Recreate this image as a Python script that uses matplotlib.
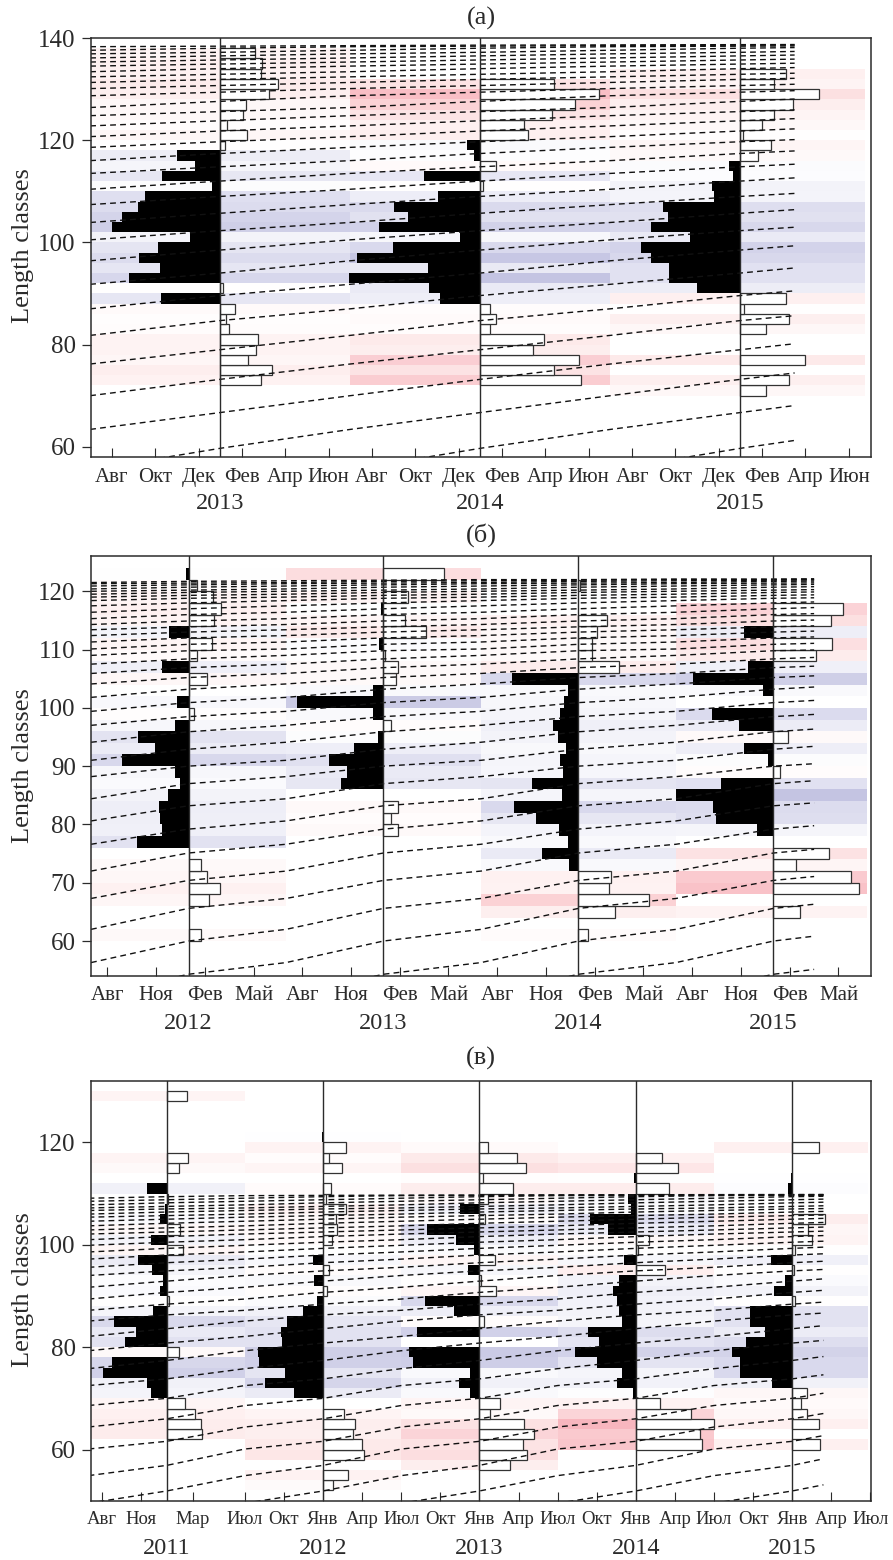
import numpy as np
import matplotlib
matplotlib.use('Agg')
import matplotlib.pyplot as plt
from matplotlib.colors import LinearSegmentedColormap

plt.rcParams['font.family'] = ['Liberation Serif', 'DejaVu Serif']

# bar lengths per 2-unit length class, lowest class first (negative = black bars)
a_2013_from = 72
a_2013 = [41,52,28,36,38,9,6,15,-59,3,-91,-60,-81,-62,-30,-108,-98,-82,-75,-8,-58,-25,-43,5,27,7,23,26,49,58,41,42,35]
a_2014_from = 72
a_2014 = [101,74,99,53,64,10,16,10,-40,-51,-131,-52,-123,-87,-20,-101,-72,-86,-42,3,-56,16,-6,-13,48,44,72,95,119,74]
a_2015_from = 70
a_2015 = [26,49,0,64,0,0,26,49,4,46,-43,-71,-71,-89,-99,-50,-89,-72,-77,-26,-28,-7,-11,18,31,3,22,34,52,78,34,46]

b_2012_from = 60
b_2012 = [13,0,0,21,32,19,13,1,-52,-27,-29,-30,-21,-9,-14,-67,-34,-51,-14,6,-12,1,19,-27,9,24,-20,26,33,25,9,-3]
b_2013_from = 78
b_2013 = [15,8,15,0,-43,-37,-55,-30,-6,8,-11,-87,-11,13,15,2,-5,43,22,-3,25,0,61]
b_2014_from = 60
b_2014 = [10,0,37,71,31,33,-10,-37,-11,-20,-43,-65,-17,-47,-16,-19,-13,-21,-26,-19,-15,-11,-67,41,14,14,19,29,0,-1,2]
b_2015_from = 64
b_2015 = [27,0,86,78,23,56,0,-17,-58,-61,-98,-53,7,-6,-30,15,-35,-62,0,-11,-81,-26,43,59,-30,58,70]

c_2011_from = 62
c_2011 = [35,34,28,18,-16,-20,-64,-55,12,-42,-31,-53,-14,2,-7,-4,-15,-29,16,-16,13,-7,-2,1,-20,0,12,21,0,0,0,0,0,20]
c_2012_from = 52
c_2012 = [10,25,0,41,39,30,32,21,0,-29,-58,-38,-64,-65,-41,-42,-36,-20,-6,4,-9,6,-10,0,9,14,13,23,3,8,0,19,6,23,-1]
c_2013_from = 56
c_2013 = [31,48,44,55,45,11,21,-9,-20,-9,-66,-70,0,-62,5,-25,-54,17,2,-11,16,-5,-23,-52,6,-19,9,34,4,47,38,9]
c_2014_from = 60
c_2014 = [66,64,78,55,24,-3,-19,-14,-39,-61,-37,-48,-14,-17,-19,-23,-17,29,-12,2,13,-28,-46,-5,-8,33,-2,42,26]
c_2015_from = 60
c_2015 = [28,0,27,15,9,15,-20,-52,-52,-60,-46,-27,-42,-42,3,-18,-7,2,-21,3,20,16,33,0,0,-4,-1,0,0,27]

# growth curve read every half year (July, January, ...) for each panel
a_growth = [55.5,59.7,63.4,66.7,70,73.2,76.2,79,81.8,84.7,87,89.6,91.8,94,96.4,98.5,100.5,102.3,103.9,105.7,107.4,109,110.4,112,
            113.5,114.8,116,117.4,118.6,119.7,120.7,121.8,122.8,123.8,124.8,125.6,126.4,127.6,128.7,129.4,130.1,130.7,131.3,131.9,
            132.4,132.9,133.4,134,134.5,134.9,135.3,135.7,136.1,136.5,136.9,137.2,137.6,138,138.3,138.4,138.5,138.6,138.65,138.7,138.75]
b_growth = [50.6,54.3,56.3,60,62,65.6,67.3,70.4,72,75.1,76.6,79.2,80.6,83.2,84.4,87,88.2,90,91,92.9,94.1,95.9,97,98.5,99.4,100.9,
            101.8,103.2,104.1,105.2,105.9,106.9,107.5,108.4,109,109.8,110.1,110.9,111.3,112,112.4,113,113.4,113.9,114.3,114.9,115.3,
            116,116.4,117,117.5,118,118.4,118.8,119,119.3,119.5,119.8,120,120.2,120.4,120.7,120.9,121.1,121.3,121.4,121.5,121.7,121.8,
            121.9,122,122,122.1,122.1,122.2]
c_growth = [49.5,51.9,54.9,56.9,60.1,61.6,64.4,66,68.6,70,72.5,73.8,75.8,77.4,79.3,80.8,82.1,83.6,85.1,86.3,87.2,88.4,89.4,90.7,
            91.7,92.9,94,94.9,95.6,96.5,97.2,98,98.6,99.3,99.9,100.5,101,101.6,102.1,102.5,102.9,103.3,103.7,104.2,104.6,105,105.4,
            105.7,106,106.4,106.7,107,107.2,107.5,107.8,108.2,108.5,108.8,109.1,109.4,109.6,109.65,109.7,109.72,109.75,109.78,109.8,109.82,109.85,109.85]

a_years = ['2013','2014','2015']
b_years = ['2012','2013','2014','2015']
c_years = ['2011','2012','2013','2014','2015']

a_months = ['Авг','Окт','Дек','Фев','Апр','Июн']
b_months = ['Авг','Ноя','Фев','Май']
c_first = ['Авг','Ноя','Мар','Июл','Окт']
c_months = ['Янв','Апр','Июл','Окт']

a_ticks = list(range(-5,30,2))
a_labels = a_months*3
b_ticks = list(range(-5,41,3))
b_labels = b_months*4
c_ticks = [-5,-2,2,6,9] + list(range(12,55,3))
c_labels = c_first + c_months*3 + ['Янв','Апр','Июл']

W, H = 893., 1560.
fig = plt.figure(figsize=(W/100, H/100), dpi=100)
# pale around zero, stronger towards the ends
cmap = LinearSegmentedColormap.from_list('anom', [(0,(196/255,196/255,226/255)), (0.25,(228/255,228/255,242/255)), (0.5,(1,1,1)),
                                                  (0.75,(253/255,234/255,234/255)), (1,(248/255,182/255,190/255))])
ink = '#2b2b2b'

def add_panel(box, xlim, ylim, yticks, bars, growth, xend, years, ticks, labels, month_px, tick_fs, lab_off, year_off):
    l, t, r, b = box
    ax = fig.add_axes([l/W, 1-b/H, (r-l)/W, (b-t)/H])
    ax.set_xlim(xlim)
    ax.set_ylim(ylim)
    for k, (start, vals) in enumerate(bars):
        x0 = 12*k
        vals = np.array(vals, dtype=float)*(1/month_px)
        edges = start + 2*np.arange(len(vals)+1)
        centers = edges[:-1] + 1
        ax.pcolormesh([max(x0-6, xlim[0]), min(x0+6, xlim[1]-0.25)], edges, vals.reshape(-1,1), cmap=cmap, vmin=-6, vmax=6, zorder=1)
        ax.barh(centers[vals<0], vals[vals<0], height=2, left=x0, color='black', linewidth=0, zorder=3)
        ax.barh(centers[vals>0], vals[vals>0], height=2, left=x0, facecolor='white', edgecolor='#333333', linewidth=0.9, zorder=3)
    g = np.array(growth, dtype=float)
    for o in range(-len(years), len(g)//2):
        xs = -6 + 6*(np.arange(len(g)) - 2*o)
        if xs[-1] < xend:
            break
        keep = (xs >= -6) & (xs < xend)
        xx = np.append(xs[keep], xend)
        yy = np.append(g[keep], np.interp(xend, xs, g))
        ax.plot(xx, yy, color='#111111', lw=1.0, dashes=(4.2,3.0), zorder=4)
    for k in range(len(years)):
        ax.axvline(12*k, color=ink, lw=1.0, zorder=5)
    ax.set_yticks(yticks)
    ax.tick_params(axis='y', direction='out', length=6.5, width=0.9, labelsize=18, pad=4.5, colors=ink)
    ax.set_xticks(ticks)
    ax.set_xticklabels(labels, fontsize=tick_fs)
    ax.tick_params(axis='x', direction='in', length=6.5, width=0.8, pad=lab_off, colors=ink)
    for s in ax.spines.values():
        s.set_linewidth(1.1)
        s.set_color(ink)
        s.set_zorder(6)
    for k, yr in enumerate(years):
        ax.annotate(yr, xy=(12*k,0), xycoords=ax.get_xaxis_transform(), xytext=(0,-year_off), textcoords='offset points',
                    ha='center', va='center', fontsize=17.5, color=ink)
    return ax

add_panel((91,38,870.5,457), (-5.96,30), (58,140), [60,80,100,120,140],
          [(a_2013_from,a_2013),(a_2014_from,a_2014),(a_2015_from,a_2015)], a_growth, 26.5, a_years, a_ticks, a_labels, 21.65, 15, 8, 33.5)
add_panel((91,556.3,871,976), (-6,42), (54,126), [60,70,80,90,100,110,120],
          [(b_2012_from,b_2012),(b_2013_from,b_2013),(b_2014_from,b_2014),(b_2015_from,b_2015)], b_growth, 38.5, b_years, b_ticks, b_labels, 16.28, 15, 7.5, 34.5)
add_panel((91,1081,871,1500.7), (-5.81,54.05), (50,132), [60,80,100,120],
          [(c_2011_from,c_2011),(c_2012_from,c_2012),(c_2013_from,c_2013),(c_2014_from,c_2014),(c_2015_from,c_2015)], c_growth, 50.4, c_years, c_ticks, c_labels, 13.03, 13.5, 7.5, 34.5)

for txt, y in [('(a)',18),('(б)',535),('(в)',1058)]:
    fig.text(481/W, 1-y/H, txt, ha='center', va='center', fontsize=19, color=ink)
for y in [246,766,1290]:
    fig.text(23/W, 1-y/H, 'Length classes', rotation=90, ha='center', va='center', fontsize=19, color=ink)

plt.savefig('out.png', dpi=100)
plt.close()
